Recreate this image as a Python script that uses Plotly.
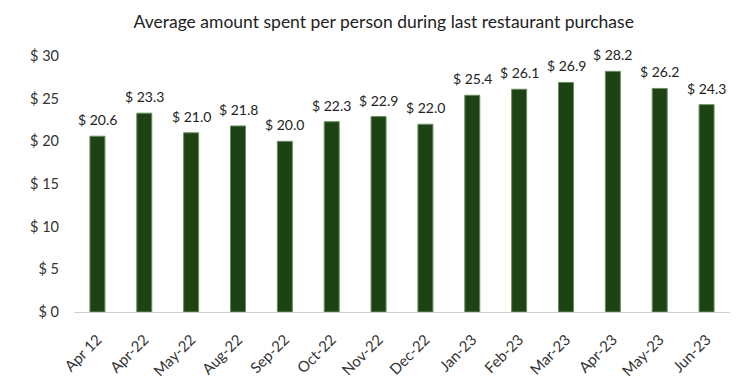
import plotly.graph_objects as go

categories = ["Apr 12", "Apr-22", "May-22", "Aug-22", "Sep-22", "Oct-22", "Nov-22",
              "Dec-22", "Jan-23", "Feb-23", "Mar-23", "Apr-23", "May-23", "Jun-23"]
values = [20.6, 23.3, 21.0, 21.8, 20.0, 22.3, 22.9, 22.0, 25.4, 26.1, 26.9, 28.2, 26.2, 24.3]
y_ticks = [0, 5, 10, 15, 20, 25, 30]
y_tick_labels = ["$ 0", "$ 5", "$ 10", "$ 15", "$ 20", "$ 25", "$ 30"]

fig = go.Figure(go.Bar(
    x=categories,
    y=values,
    text=[f"$ {v:.1f}" for v in values],
    textposition="none",
    marker=dict(color="#1d4314", line=dict(color="#6a8f5e", width=1)),
))

# value labels placed above each bar
for c, v in zip(categories, values):
    fig.add_annotation(x=c, y=v, text=f"$ {v:.1f}", showarrow=False,
                       yanchor="bottom", yshift=6,
                       font=dict(family="Lato", size=14, color="#222222"))

fig.update_layout(
    width=756, height=383,
    margin=dict(l=66, r=34, t=48, b=79),
    paper_bgcolor="white", plot_bgcolor="white",
    bargap=0.68,
    showlegend=False,
    title=dict(text="Average amount spent per person during last restaurant purchase",
               x=0.497, xanchor="center", y=0.963, yanchor="middle",
               font=dict(family="Lato", size=17.5, color="#222222")),
    font=dict(family="Lato", size=14, color="#333333"),
)
fig.update_yaxes(range=[0, 30], tickvals=y_ticks, ticktext=y_tick_labels,
                 showgrid=False, zeroline=False, showline=False,
                 ticklabelstandoff=14, tickfont=dict(family="Lato", size=14.5, color="#333333"))
fig.update_xaxes(showline=True, linecolor="#d0d0d0", linewidth=1, tickangle=-45,
                 ticks="", ticklabelstandoff=12,
                 tickfont=dict(family="Lato", size=15, color="#333333"))

fig.write_html("out.html")
